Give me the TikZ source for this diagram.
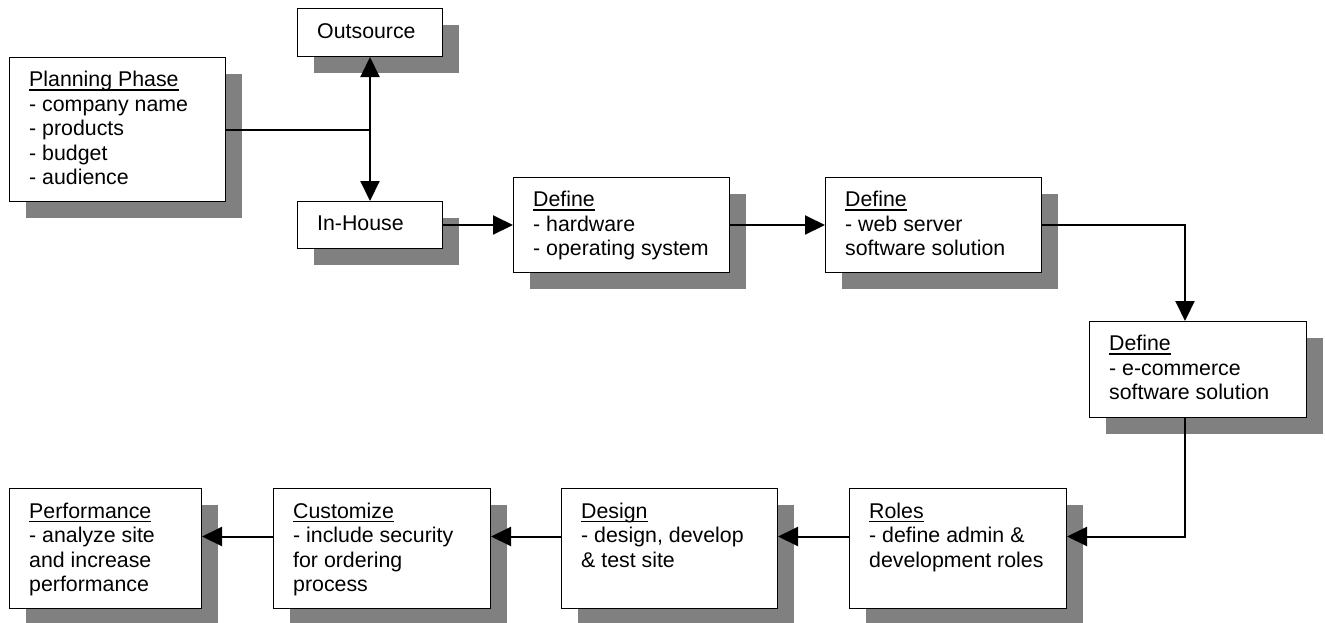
\documentclass[tikz,border=0pt]{standalone}
\usepackage{fontspec}
\setmainfont{Liberation Sans}
\usetikzlibrary{arrows.meta,shadows,calc}

% heading with a flat underline set just below the baseline
\newcommand\hdr[1]{\setbox0=\hbox{#1}\rlap{\rule[-4.2pt]{\wd0}{1.3pt}}\box0}
% stacked lines whose baseline is that of the first line
\newcommand\boxlines[1]{\begin{tabular}[t]{@{}l@{}}#1\end{tabular}}

\definecolor{shadowgray}{HTML}{808080}

\tikzset{
  box/.style={rectangle, draw=black, line width=1pt, fill=white, inner sep=0pt,
    anchor=north west,
    drop shadow={shadow xshift=16pt, shadow yshift=-16pt, opacity=1, fill=shadowgray}},
  txt/.style={inner sep=0pt, anchor=base west,
    font=\fontsize{21.33}{24.5}\selectfont},
  conn/.style={draw=black, line width=2pt},
  tip/.style={-{Triangle[length=20pt,width=19pt]}}
}

\begin{document}
\begin{tikzpicture}[x=1pt,y=-1pt]
\path[use as bounding box] (0,0) rectangle (1325,622);

% boxes
\node[box, minimum width=216pt, minimum height=144pt] (plan)   at (9,57)    {};
\node[box, minimum width=145pt, minimum height=48pt]  (outs)   at (297,8)   {};
\node[box, minimum width=145pt, minimum height=47pt]  (inh)    at (297,201) {};
\node[box, minimum width=216pt, minimum height=95pt]  (hw)     at (513,177) {};
\node[box, minimum width=216pt, minimum height=95pt]  (web)    at (825,177) {};
\node[box, minimum width=217pt, minimum height=96pt]  (ecom)   at (1089,321) {};
\node[box, minimum width=217pt, minimum height=120pt] (roles)  at (849,488) {};
\node[box, minimum width=216pt, minimum height=120pt] (design) at (561,488) {};
\node[box, minimum width=217pt, minimum height=120pt] (cust)   at (273,488) {};
\node[box, minimum width=192pt, minimum height=120pt] (perf)   at (9,488)   {};

% box texts
\node[txt] (plan-t) at ([shift={(20,29.5)}]plan.north west)
  {\boxlines{\hdr{Planning Phase}\\- company name\\- products\\- budget\\- audience}};
\node[txt] (outs-t) at ([shift={(20,30)}]outs.north west) {Outsource};
\node[txt] (inh-t) at ([shift={(20,29.5)}]inh.north west) {In-House};
\node[txt] (hw-t) at ([shift={(20,29.5)}]hw.north west)
  {\boxlines{\hdr{Define}\\- hardware\\- operating system}};
\node[txt] (web-t) at ([shift={(20,29.5)}]web.north west)
  {\boxlines{\hdr{Define}\\- web server\\software solution}};
\node[txt] (ecom-t) at ([shift={(20,29.5)}]ecom.north west)
  {\boxlines{\hdr{Define}\\- e-commerce\\software solution}};
\node[txt] (roles-t) at ([shift={(20,30)}]roles.north west)
  {\boxlines{\hdr{Roles}\\- define admin \&\\development roles}};
\node[txt] (design-t) at ([shift={(20,30)}]design.north west)
  {\boxlines{\hdr{Design}\\- design, develop\\\& test site}};
\node[txt] (cust-t) at ([shift={(20,30)}]cust.north west)
  {\boxlines{\hdr{Customize}\\- include security\\for ordering\\process}};
\node[txt] (perf-t) at ([shift={(20,30)}]perf.north west)
  {\boxlines{\hdr{Performance}\\- analyze site\\and increase\\performance}};

% connectors
\coordinate (split) at (plan.east -| outs.south);
\draw[conn] (plan.east) -- (split);
\draw[conn,tip] (split) -- (outs.south);
\draw[conn,tip] (split) -- (inh.north);
\draw[conn,tip] (inh.east) -- (hw.west);
\draw[conn,tip] (hw.east) -- (web.west);
\coordinate (ecin) at ([xshift=96pt]ecom.north west);
\draw[conn,tip] (web.east) -| (ecin);
\draw[conn,tip] (ecin |- ecom.south) |- ([yshift=12pt]roles.east);
\draw[conn,tip] ([yshift=12pt]roles.west) -- ([yshift=12pt]design.east);
\draw[conn,tip] ([yshift=12pt]design.west) -- ([yshift=12pt]cust.east);
\draw[conn,tip] ([yshift=12pt]cust.west) -- ([yshift=12pt]perf.east);
\end{tikzpicture}
\end{document}
